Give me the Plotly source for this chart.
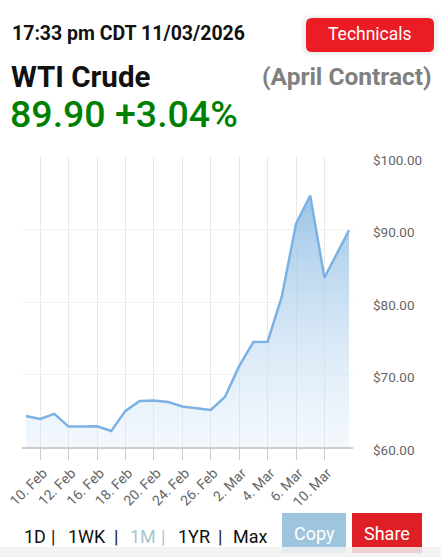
import plotly.graph_objects as go

# ---- data ----
dates = ["2026-02-09", "2026-02-10", "2026-02-11", "2026-02-12", "2026-02-13",
         "2026-02-16", "2026-02-17", "2026-02-18", "2026-02-19", "2026-02-20",
         "2026-02-23", "2026-02-24", "2026-02-25", "2026-02-26", "2026-02-27",
         "2026-03-02", "2026-03-03", "2026-03-04", "2026-03-05", "2026-03-06",
         "2026-03-09", "2026-03-10", "2026-03-11 17:33"]
prices = [64.28, 63.87, 64.56, 62.82, 62.84, 62.85, 62.21, 64.98, 66.36, 66.41,
          66.22, 65.58, 65.35, 65.11, 66.91, 71.15, 74.47, 74.51, 80.73, 90.78,
          94.69, 83.36, 89.90]
tick_dates = ["2026-02-10", "2026-02-12", "2026-02-16", "2026-02-18", "2026-02-20",
              "2026-02-24", "2026-02-26", "2026-03-02", "2026-03-04", "2026-03-06",
              "2026-03-10"]
tick_labels = ["10. Feb", "12. Feb", "16. Feb", "18. Feb", "20. Feb", "24. Feb",
               "26. Feb", "2. Mar", "4. Mar", "6. Mar", "10. Mar"]
y_ticks = [60, 70, 80, 90, 100]
y_labels = ["$%.2f" % v for v in y_ticks]

title = "WTI Crude"
subtitle = "(April Contract)"
timestamp = "17:33 pm CDT 11/03/2026"
last_price = "89.90"
change = "+3.04%"
periods = ["1D", "1WK", "1M", "1YR", "Max"]
active_period = "1M"

FONT = "Roboto"
W, H = 441, 557
L, R, T, B = 22, 88, 157, 110
PW, PH = W - L - R, H - T - B

fig = go.Figure()
fig.add_trace(go.Scatter(
    x=dates, y=prices, mode="lines",
    line=dict(color="#7cb2e3", width=2.5),
    fill="tozeroy",
    fillgradient=dict(type="vertical", start=60, stop=95,
                      colorscale=[[0, "rgba(214,232,248,0.3)"],
                                  [1, "rgba(150,192,228,0.95)"]]),
    hoverinfo="skip", showlegend=False,
))

fig.update_layout(
    width=W, height=H,
    margin=dict(l=L, r=R, t=T, b=B, autoexpand=False),
    paper_bgcolor="white", plot_bgcolor="white",
    font=dict(family=FONT, color="#666666"),
    xaxis=dict(
        type="date", automargin=False,
        range=["2026-02-06 17:18", "2026-03-12 00:15"],
        rangebreaks=[dict(bounds=["sat", "mon"])],
        tickmode="array", tickvals=tick_dates, ticktext=tick_labels,
        tickangle=-45, tickfont=dict(size=14, color="#666666", family=FONT),
        ticklabelshift=3,
        ticks="outside", ticklen=11, tickcolor="#cccccc", tickwidth=1,
        showgrid=True, gridcolor="#e8e8e8", gridwidth=1,
        showline=True, linecolor="#cccccc", linewidth=1.5,
        zeroline=False, fixedrange=True,
    ),
    yaxis=dict(
        side="right", range=[60, 100], automargin=False,
        tickmode="array", tickvals=y_ticks, ticktext=y_labels,
        tickfont=dict(size=13.5, color="#666666", family=FONT),
        ticklabelstandoff=19, ticklabelshift=3,
        showgrid=True, gridcolor="#f2f2f2", gridwidth=1,
        zeroline=False, showline=False, fixedrange=True,
    ),
)

def px_x(x):
    return (x - L) / PW

def px_y(y):
    return (H - B - y) / PH

paper_anns = [
    dict(text=f"<b>{timestamp}</b>", x=10, y=33, size=19.5, color="#111111", xanchor="left"),
    dict(text=f"<b>{title}</b>", x=9, y=77, size=29.5, color="#111111", xanchor="left"),
    dict(text=f"<b>{subtitle}</b>", x=434, y=76, size=24.5, color="#808080", xanchor="right"),
    dict(text=f"{last_price} {change}", x=8, y=114, size=37.5, color="#008000", xanchor="left", weight=500),
    dict(text="Technicals", x=370, y=34, size=17.5, color="white", xanchor="center"),
    dict(text="Copy", x=314, y=533, size=18, color="white", xanchor="center"),
    dict(text="Share", x=387, y=533, size=18, color="white", xanchor="center"),
]

nav_x = [22, 66, 128, 176, 231]
pipe_x = [53, 116, 163, 220]
for px_, p in zip(nav_x, periods):
    col = "#a8c3d1" if p == active_period else "#111111"
    paper_anns.append(dict(text=p, x=px_, y=536, size=18, color=col, xanchor="left"))
for i, px_ in enumerate(pipe_x):
    col = "#a8c3d1" if i == 2 else "#111111"
    paper_anns.append(dict(text="|", x=px_, y=536, size=18, color=col, xanchor="center"))

annotations = []
for a in paper_anns:
    annotations.append(dict(
        text=a["text"], x=px_x(a["x"]), y=px_y(a["y"]), xref="paper", yref="paper",
        xanchor=a["xanchor"], yanchor="middle", showarrow=False,
        font=dict(family=FONT, size=a["size"], color=a["color"],
                  weight=a.get("weight", "normal")),
    ))
fig.update_layout(annotations=annotations)

def rect(x0, y0, x1, y1, color, r=0, opacity=1.0, layer="below"):
    X0, X1 = px_x(x0), px_x(x1)
    Y0, Y1 = px_y(y1), px_y(y0)
    if r == 0:
        return dict(type="rect", xref="paper", yref="paper", x0=X0, x1=X1, y0=Y0, y1=Y1,
                    fillcolor=color, line=dict(width=0), opacity=opacity, layer=layer)
    rx, ry = r / PW, r / PH
    path = (f"M {X0+rx},{Y1} L {X1-rx},{Y1} Q {X1},{Y1} {X1},{Y1-ry} "
            f"L {X1},{Y0+ry} Q {X1},{Y0} {X1-rx},{Y0} L {X0+rx},{Y0} "
            f"Q {X0},{Y0} {X0},{Y0+ry} L {X0},{Y1-ry} Q {X0},{Y1} {X0+rx},{Y1} Z")
    return dict(type="path", xref="paper", yref="paper", path=path,
                fillcolor=color, line=dict(width=0), opacity=opacity, layer=layer)

shapes = [
    rect(301, 14, 439, 57, "rgba(0,0,0,0.025)", r=10),
    rect(303, 16, 437, 55, "rgba(0,0,0,0.03)", r=8),
    rect(306, 18, 434, 52, "#ec1c24", r=6),
    rect(282, 513, 346, 553, "#9fc5de"),
    rect(352, 513, 422, 553, "#de1f26"),
    rect(0, 547, 441, 557, "#f2f2f2", opacity=0.85, layer="above"),
]
fig.update_layout(shapes=shapes)

fig.write_html(
    "out.html",
    config={"displayModeBar": False, "staticPlot": True},
    post_script="document.body.style.margin='0px';document.body.style.overflow='hidden';",
)
